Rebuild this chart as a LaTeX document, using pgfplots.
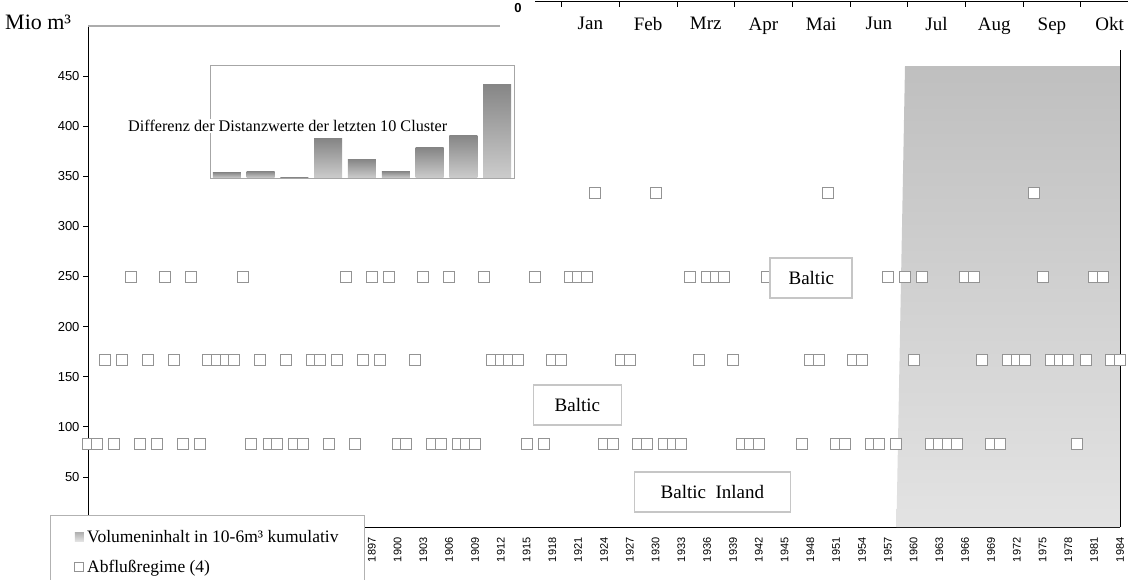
\documentclass[border=0pt]{standalone}
\usepackage{pgfplots}
\pgfplotsset{compat=1.18}
\usepackage{pgfplotstable}
\usepackage{fontspec}
\setmainfont{Liberation Serif}
\newfontfamily\sansf{Liberation Sans}

\pgfplotstableread{
year val
1864 83.3
1865 83.3
1866 166.7
1867 83.3
1868 166.7
1869 250
1870 83.3
1871 166.7
1872 83.3
1873 250
1874 166.7
1875 83.3
1876 250
1877 83.3
1878 166.7
1879 166.7
1880 166.7
1881 166.7
1882 250
1883 83.3
1884 166.7
1885 83.3
1886 83.3
1887 166.7
1888 83.3
1889 83.3
1890 166.7
1891 166.7
1892 83.3
1893 166.7
1894 250
1895 83.3
1896 166.7
1897 250
1898 166.7
1899 250
1900 83.3
1901 83.3
1902 166.7
1903 250
1904 83.3
1905 83.3
1906 250
1907 83.3
1908 83.3
1909 83.3
1910 250
1911 166.7
1912 166.7
1913 166.7
1914 166.7
1915 83.3
1916 250
1917 83.3
1918 166.7
1919 166.7
1920 250
1921 250
1922 250
1923 333.3
1924 83.3
1925 83.3
1926 166.7
1927 166.7
1928 83.3
1929 83.3
1930 333.3
1931 83.3
1932 83.3
1933 83.3
1934 250
1935 166.7
1936 250
1937 250
1938 250
1939 166.7
1940 83.3
1941 83.3
1942 83.3
1943 250
1944 250
1945 250
1946 250
1947 83.3
1948 166.7
1949 166.7
1950 333.3
1951 83.3
1952 83.3
1953 166.7
1954 166.7
1955 83.3
1956 83.3
1957 250
1958 83.3
1959 250
1960 166.7
1961 250
1962 83.3
1963 83.3
1964 83.3
1965 83.3
1966 250
1967 250
1968 166.7
1969 83.3
1970 83.3
1971 166.7
1972 166.7
1973 166.7
1974 333.3
1975 250
1976 166.7
1977 166.7
1978 166.7
1979 83.3
1980 166.7
1981 250
1982 250
1983 166.7
1984 166.7
}\regime

\pgfplotstableread{
year vol
1958 0
1959 460
1984 460
1984 0
}\volume

\begin{document}
\begin{tikzpicture}
\useasboundingbox (0pt,0pt) rectangle (1128pt,579pt);

% ---------------- main axis ----------------
\begin{axis}[
  at={(88pt,52pt)}, anchor=south west,
  scale only axis, width=1032pt, height=501pt,
  xmin=1864, xmax=1984, ymin=0, ymax=500,
  clip=false,
  axis x line*=bottom, axis y line*=left,
  axis line style={black, line width=0.9pt, -},
  ytick={50,100,...,450},
  xtick={1897,1900,...,1984},
  tick align=outside,
  major tick length=5pt,
  ytick style={black, line width=0.8pt},
  xtick style={draw=none},
  /pgf/number format/assume math mode=true,
  /pgf/number format/1000 sep={},
  yticklabel style={font=\sansf\fontsize{13}{13}\selectfont},
  xticklabel style={font=\sansf\fontsize{11}{11}\selectfont, rotate=90, anchor=east, xshift=-2pt},
  legend style={at={(axis description cs:-0.0368,0.024)}, anchor=north west,
    draw=gray!60, line width=0.8pt, fill=white,
    font=\fontsize{17.5}{17.5}\selectfont,
    row sep=12pt, inner xsep=24pt, inner ysep=13pt,
    /tikz/every odd column/.append style={column sep=1pt}},
  legend cell align=left,
]
\addplot[draw=none, top color=gray!50, bottom color=gray!22,
  legend image code/.code={\fill[top color=gray!60,bottom color=gray!20] (0pt,-4.5pt) rectangle (9pt,4.5pt);}]
  table[x=year,y=vol]{\volume};
\addlegendentry{Volumeninhalt in 10-6m³ kumulativ\hspace{8pt}}
\addplot[only marks, mark=square*, mark size=5.5pt,
  mark options={fill=white, draw=gray!85, line width=0.9pt},
  legend image code/.code={\draw[fill=white, draw=gray!85, line width=0.7pt] (0pt,-4.5pt) rectangle (9pt,4.5pt);}]
  table[x=year,y=val]{\regime};
\addlegendentry{Abflußregime (4)}
\draw[gray!65, line width=1.2pt] (axis cs:1864,500) -- (axis cs:1911.9,500);
\draw[black, line width=1pt] (axis cs:1984,0) -- (axis cs:1984,476);
\coordinate (B1) at (axis cs:1948.1,248.5);
\coordinate (B2) at (axis cs:1920.9,121.8);
\coordinate (B3) at (axis cs:1936.6,35);
\end{axis}

\tikzset{bbox/.style={draw=gray!45, line width=1.6pt, fill=white, minimum height=40pt, inner sep=0pt,
  font=\fontsize{19}{19}\selectfont}}
\node[bbox, minimum width=82pt] at (B1) {Baltic};
\node[bbox, minimum width=88pt] at (B2) {Baltic};
\node[bbox, minimum width=156pt] at (B3) {Baltic\ \ Inland};

\node[anchor=west, font=\fontsize{22}{22}\selectfont, inner sep=0pt] at (5pt,557pt) {Mio m³};

% ---------------- inset bar chart ----------------
\begin{axis}[
  at={(210pt,401pt)}, anchor=south west,
  scale only axis, width=304pt, height=113pt,
  xmin=0.5, xmax=9.5, ymin=0, ymax=113,
  axis line style={gray!70, line width=0.8pt},
  ticks=none, clip=false,
  ib/.style={ybar, bar width=28pt, bar shift=0pt, draw=none, mark=none, top color=gray!95, bottom color=gray!40},
]
\addplot[ib] coordinates {(1,5.7)};
\addplot[ib] coordinates {(2,6.7)};
\addplot[ib] coordinates {(3,1.0)};
\addplot[ib] coordinates {(4,39)};
\addplot[ib] coordinates {(5,18.7)};
\addplot[ib] coordinates {(6,6.7)};
\addplot[ib] coordinates {(7,30)};
\addplot[ib] coordinates {(8,42.7)};
\addplot[ib] coordinates {(9,93.7)};
\end{axis}
\node[anchor=west, fill=white, inner sep=1pt, font=\fontsize{16.2}{16.2}\selectfont] at (127pt,453pt)
  {Differenz der Distanzwerte der letzten 10 Cluster};

% ---------------- month axis at top ----------------
\begin{axis}[
  at={(535pt,578pt)}, anchor=south west,
  scale only axis, width=603.5pt, height=1pt,
  xmin=-0.46, xmax=10, ymin=0, ymax=1,
  axis x line*=bottom, axis y line=none,
  axis line style={black, line width=0.9pt, -},
  xtick={0,...,9}, xticklabels={},
  extra x ticks={0.5,1.5,...,9.5},
  extra x tick labels={Jan,Feb,Mrz,Apr,Mai,Jun,Jul,Aug,Sep,Okt},
  extra x tick style={major tick length=0pt},
  tick align=outside, major tick length=6pt,
  xtick style={black, line width=0.8pt},
  xticklabel style={font=\fontsize{19}{19}\selectfont, yshift=-13pt},
]
\addplot[draw=none] coordinates {(0,0)};
\end{axis}
\node[font=\sansf\bfseries\fontsize{13}{13}\selectfont, inner sep=0pt] at (518pt,571pt) {0};

\end{tikzpicture}
\end{document}
